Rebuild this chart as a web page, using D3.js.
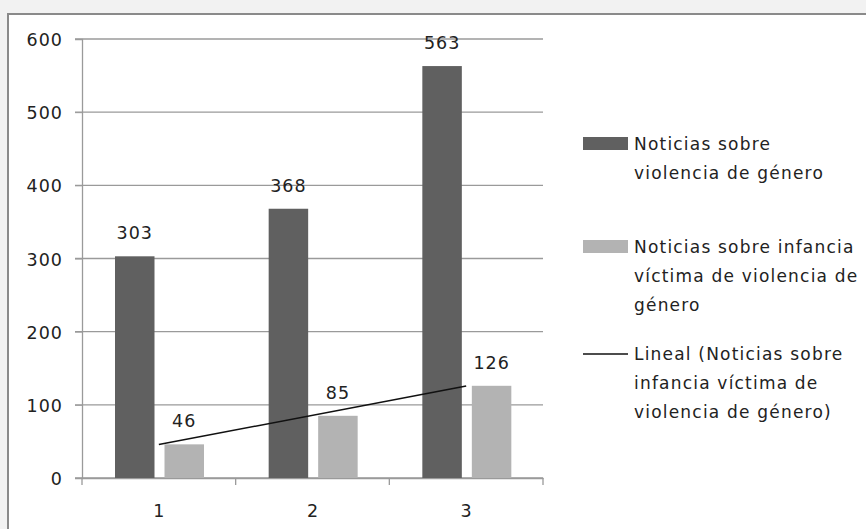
<!DOCTYPE html>
<html><head><meta charset="utf-8">
<script src="https://cdn.jsdelivr.net/npm/d3@7"></script>
<style>
html,body{margin:0;padding:0;background:#f2f2f2;}
svg{display:block;}
text{font-family:"DejaVu Sans",sans-serif;fill:#222;}
</style></head>
<body><svg id="c" width="866" height="529"></svg>
<script>
const categories = ["1","2","3"];
const seriesNames = ["Noticias sobre violencia de género","Noticias sobre infancia víctima de violencia de género"];
const seriesA = [303,368,563];
const seriesB = [46,85,126];
const yTicks = [0,100,200,300,400,500,600];
const legendLabels = [
  ["Noticias sobre","violencia de género"],
  ["Noticias sobre infancia","víctima de violencia de","género"],
  ["Lineal (Noticias sobre","infancia víctima de","violencia de género)"]
];

const svg = d3.select("#c");
// frame
svg.append("rect").attr("x",8).attr("y",14).attr("width",900).attr("height",600)
  .attr("fill","#fff").attr("stroke","#8a8a8a").attr("stroke-width",2);

const L=82, R=543, T=39, B=478;
const x = d3.scaleBand().domain(categories).range([L,R]);
const y = d3.scaleLinear().domain([0,600]).range([B,T]);
const bw = 39.5;
const inner = d3.scaleOrdinal().domain([0,1]).range([33, 33+bw+10]);
const FS = 17.5;

// gridlines
svg.append("g").selectAll("line").data(yTicks).join("line")
  .attr("x1",L-7).attr("x2",R).attr("y1",d=>y(d)).attr("y2",d=>y(d))
  .attr("stroke","#9a9a9a").attr("stroke-width",1.3);

// y axis
const ya = svg.append("g").attr("transform",`translate(${L},0)`)
  .call(d3.axisLeft(y).tickValues(yTicks).tickSize(7).tickPadding(12));
ya.select(".domain").attr("stroke","#9a9a9a").attr("stroke-width",1.3);
ya.selectAll(".tick line").attr("stroke","#9a9a9a");
ya.selectAll("text").attr("font-size",FS).attr("font-family","DejaVu Sans").attr("fill","#222")
  .attr("dy","0.38em").attr("letter-spacing","1px");

// x axis
const xa = svg.append("g").attr("transform",`translate(0,${B})`)
  .call(d3.axisBottom(x).tickSize(0).tickPadding(27));
xa.select(".domain").attr("stroke","#9a9a9a").attr("stroke-width",1.3);
xa.selectAll("text").attr("font-size",FS).attr("font-family","DejaVu Sans").attr("fill","#222");
const xt = [L].concat(categories.map(c=>x(c)+x.bandwidth()));
svg.append("g").selectAll("line").data(xt).join("line")
  .attr("x1",d=>d).attr("x2",d=>d).attr("y1",B).attr("y2",B+7)
  .attr("stroke","#9a9a9a").attr("stroke-width",1.3);

const colors = ["#606060","#b3b3b3"];
[seriesA,seriesB].forEach((s,si)=>{
  const g = svg.append("g");
  g.selectAll("rect").data(s).join("rect")
    .attr("x",(d,i)=>x(categories[i])+inner(si)).attr("width",bw)
    .attr("y",d=>y(d)).attr("height",d=>B-y(d)).attr("fill",colors[si]);
  g.selectAll("text").data(s).join("text")
    .attr("x",(d,i)=>x(categories[i])+inner(si)+bw/2).attr("y",d=>y(d)-17)
    .attr("text-anchor","middle").attr("font-size",FS).attr("letter-spacing","1px").text(d=>d);
});

// linear trend for series B
const n = seriesB.length, xs = seriesB.map((d,i)=>i+1);
const mx = d3.mean(xs), my = d3.mean(seriesB);
const slope = d3.sum(xs.map((v,i)=>(v-mx)*(seriesB[i]-my)))/d3.sum(xs.map(v=>(v-mx)*(v-mx)));
const icpt = my - slope*mx;
const cx = c=>x(c)+x.bandwidth()/2;
svg.append("line")
  .attr("x1",cx(categories[0])).attr("y1",y(icpt+slope*1))
  .attr("x2",cx(categories[n-1])).attr("y2",y(icpt+slope*n))
  .attr("stroke","#111").attr("stroke-width",1.5);

// legend
const lg = svg.append("g");
const lgY = [144,247,354];
legendLabels.forEach((lines,i)=>{
  if(i<2){
    lg.append("rect").attr("x",583).attr("y",lgY[i]-7).attr("width",45).attr("height",13).attr("fill",colors[i]);
  } else {
    lg.append("line").attr("x1",583).attr("x2",628).attr("y1",lgY[i]).attr("y2",lgY[i]).attr("stroke","#111").attr("stroke-width",1.5);
  }
  lines.forEach((t,j)=>{
    lg.append("text").attr("x",634).attr("y",lgY[i]+j*29).attr("dy","0.36em")
      .attr("font-size",17).attr("letter-spacing","1.2px").text(t);
  });
});
</script></body></html>
